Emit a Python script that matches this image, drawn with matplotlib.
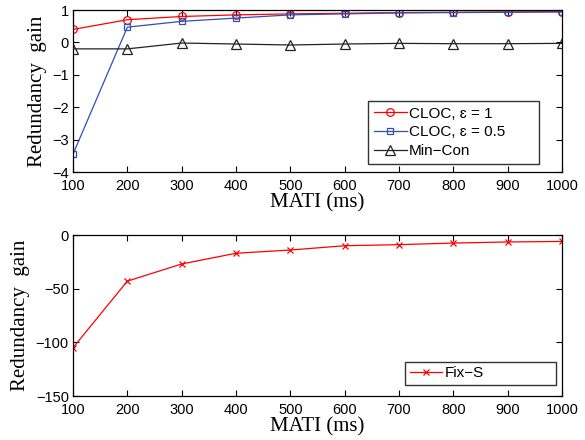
import matplotlib.pyplot as plt

mati = [100, 200, 300, 400, 500, 600, 700, 800, 900, 1000]
cloc_1 = [0.40, 0.70, 0.80, 0.85, 0.88, 0.90, 0.92, 0.93, 0.94, 0.95]
cloc_05 = [-3.45, 0.47, 0.65, 0.75, 0.85, 0.88, 0.91, 0.92, 0.93, 0.94]
min_con = [-0.20, -0.20, -0.02, -0.05, -0.08, -0.05, -0.03, -0.04, -0.04, -0.03]
fix_s = [-105, -43, -27, -17, -14, -10, -9, -7.5, -6.5, -6]

sans = ['Liberation Sans', 'DejaVu Sans']
serif = ['Liberation Serif', 'DejaVu Serif']
plt.rcParams['font.family'] = sans
plt.rcParams['font.size'] = 10.5

fig = plt.figure(figsize=(5.85, 4.4), dpi=100)
W, H = 585, 440
ax1 = fig.add_axes([73 / W, 1 - 172 / H, (562 - 73) / W, (172 - 10) / H])
ax2 = fig.add_axes([73 / W, 1 - 396 / H, (562 - 73) / W, (396 - 235) / H])

ax1.plot(mati, cloc_1, color='red', lw=0.9, marker='o', ms=5.5, mfc='none', mew=0.9, label='CLOC, \u025b = 1')
ax1.plot(mati, cloc_05, color='#2f4fb5', lw=0.9, marker='s', ms=5, mfc='none', mew=0.9, label='CLOC, \u025b = 0.5')
ax1.plot(mati, min_con, color='#222222', lw=0.9, marker='^', ms=7, mfc='none', mew=0.9, label='Min\u2212Con')
ax1.set_ylim(-4, 1)
ax1.set_yticks([-4, -3, -2, -1, 0, 1])
ax1.set_yticklabels(['\u22124', '\u22123', '\u22122', '\u22121', '0', '1'])
ax1.legend(loc='lower left', bbox_to_anchor=(0.603, 0.049, 0.350, 0.3), mode='expand',
           borderaxespad=0, frameon=True, fancybox=False,
           edgecolor='black', fontsize=11, handlelength=2.15, borderpad=0.4,
           labelspacing=0.3, handletextpad=0.15)

ax2.plot(mati, fix_s, color='red', lw=0.9, marker='x', ms=4, mew=0.9, label='Fix\u2212S')
ax2.set_ylim(-150, 0)
ax2.set_yticks([-150, -100, -50, 0])
ax2.set_yticklabels(['\u2212150', '\u2212100', '\u221250', '0'])
ax2.legend(loc='lower left', bbox_to_anchor=(0.679, 0.068, 0.309, 0.2), mode='expand',
           borderaxespad=0, frameon=True, fancybox=False,
           edgecolor='black', fontsize=11, handlelength=2.15, borderpad=0.3,
           handletextpad=0.15)

for ax in (ax1, ax2):
    ax.set_xlim(100, 1000)
    ax.set_xticks(mati)
    ax.tick_params(direction='in', top=True, right=True, length=4, width=0.8, pad=3)
    ax.tick_params(axis='x', pad=5)
    for s in ax.spines.values():
        s.set_linewidth(0.9)
    ax.set_xlabel('MATI (ms)', family=serif, fontsize=15, labelpad=0)
    ax.set_ylabel('Redundancy  gain', family=serif, fontsize=15, labelpad=4)
    ax.legend_.get_frame().set_linewidth(1.0)

fig.savefig('out.png', dpi=100)
